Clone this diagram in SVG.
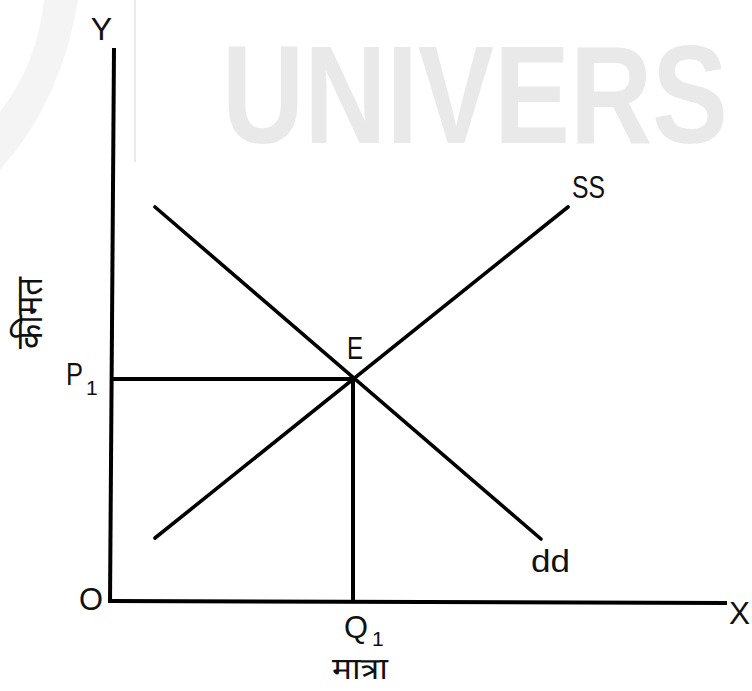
<svg xmlns="http://www.w3.org/2000/svg" width="752" height="691" viewBox="0 0 752 691">
<style>
.ax{stroke:#000;stroke-width:4;fill:none;stroke-linecap:butt}
.cv{stroke:#000;stroke-width:3.6;fill:none;stroke-linecap:round}
.lb{font-family:"Liberation Sans","Noto Sans",sans-serif;font-size:32px;fill:#111}
.sb{font-family:"Liberation Sans","Noto Sans",sans-serif;font-size:21px;fill:#111}
.hi{font-family:"Noto Sans Devanagari","Noto Sans","Lohit Devanagari",sans-serif;fill:#111}
</style>
<rect width="752" height="691" fill="#fff"/>
<g id="watermark">
<path d="M78,0 Q62,100 0,170 L0,112 Q38,62 44,0 Z" fill="#f4f4f4"/>
<line x1="135" y1="0" x2="135" y2="162" stroke="#e2e2e2" stroke-width="1.5"/>
<text x="222" y="143" font-family="Liberation Sans,Arial,sans-serif" font-weight="bold" font-size="140" fill="#e9e9e9" textLength="506" lengthAdjust="spacingAndGlyphs">UNIVERS</text>
</g>
<g id="connectors">
<line class="ax" x1="114" y1="48" x2="110" y2="603"/>
<line class="ax" x1="108" y1="601" x2="727" y2="603"/>
<line class="ax" x1="110" y1="379" x2="353" y2="379"/>
<line class="ax" x1="353" y1="379" x2="353" y2="601"/>
<line class="cv" x1="155" y1="538" x2="568" y2="207"/>
<line class="cv" x1="155" y1="207" x2="541" y2="539"/>
</g>
<g id="label-Y"><text class="lb" x="101.5" y="40" text-anchor="middle">Y</text></g>
<g id="label-SS"><text class="lb" x="572" y="198" textLength="33" lengthAdjust="spacingAndGlyphs">SS</text></g>
<g id="label-E"><text class="lb" x="347" y="359" textLength="16" lengthAdjust="spacingAndGlyphs">E</text></g>
<g id="label-P1"><text class="lb" x="66" y="385" textLength="17" lengthAdjust="spacingAndGlyphs">P</text><text class="sb" x="86" y="395">1</text></g>
<g id="label-O"><text class="lb" x="79" y="610" textLength="24" lengthAdjust="spacingAndGlyphs">O</text></g>
<g id="label-dd"><text class="lb" x="531" y="572" textLength="39" lengthAdjust="spacingAndGlyphs">dd</text></g>
<g id="label-X"><text class="lb" x="729" y="624" textLength="21" lengthAdjust="spacingAndGlyphs">X</text></g>
<g id="label-Q1"><text class="lb" x="344" y="638" textLength="24" lengthAdjust="spacingAndGlyphs">Q</text><text class="sb" x="372" y="646">1</text></g>
<g id="label-quantity"><text class="hi" x="360" y="679" font-size="30" text-anchor="middle" textLength="56" lengthAdjust="spacingAndGlyphs">मात्रा</text></g>
<g id="label-price"><text class="hi" font-size="36" transform="translate(42,313) rotate(-90)" text-anchor="middle" textLength="72" lengthAdjust="spacingAndGlyphs">कीमत</text></g>
</svg>
